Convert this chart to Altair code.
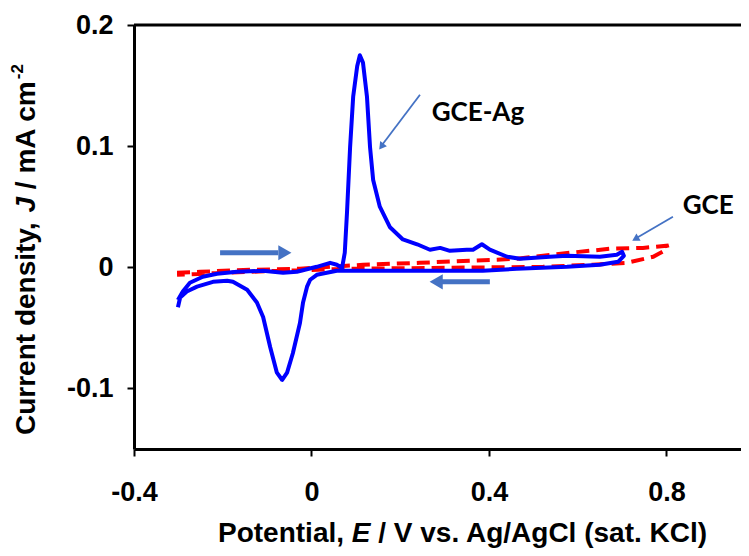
import altair as alt
import pandas as pd

# GCE-Ag cyclic voltammogram (blue), in scan order
ag_E = [-0.301, -0.290, -0.274, -0.245, -0.213, -0.168, -0.109, -0.087, -0.064, -0.033,
        0.012, 0.042, 0.057, 0.069, 0.075, 0.080, 0.087, 0.094, 0.103, 0.109,
        0.116, 0.125, 0.132, 0.139, 0.154, 0.177, 0.206, 0.238, 0.267, 0.290,
        0.312, 0.350, 0.364, 0.384, 0.402, 0.441, 0.470, 0.537, 0.576, 0.650,
        0.688, 0.700, 0.704, 0.691, 0.650, 0.576, 0.463, 0.386, 0.312, 0.154,
        0.057, 0.012, -0.003, -0.010, -0.019, -0.026, -0.042, -0.055, -0.066, -0.078,
        -0.093, -0.109, -0.123, -0.145, -0.177, -0.190, -0.222, -0.258, -0.281, -0.296,
        -0.301]
ag_J = [-0.027, -0.020, -0.0128, -0.0078, -0.0054, -0.0037, -0.0029, -0.0037, -0.0045, -0.0037,
        0.0004, 0.0037, 0.0021, -0.0004, 0.012, 0.045, 0.099, 0.141, 0.166, 0.175,
        0.169, 0.141, 0.099, 0.072, 0.050, 0.033, 0.023, 0.019, 0.0145, 0.016,
        0.0136, 0.0145, 0.0145, 0.019, 0.0145, 0.0087, 0.007, 0.0087, 0.0095, 0.0087,
        0.0103, 0.0128, 0.0095, 0.0045, 0.0021, 0.0004, -0.0012, -0.0029, -0.0029, -0.0029,
        -0.0029, -0.0062, -0.0103, -0.016, -0.029, -0.046, -0.071, -0.087, -0.093, -0.087,
        -0.066, -0.041, -0.029, -0.0186, -0.012, -0.0111, -0.012, -0.016, -0.020, -0.025,
        -0.033]

# bare GCE (red dashed), in scan order
gce_E = [-0.303, -0.251, -0.139, -0.026, 0.116, 0.244, 0.463, 0.583, 0.673, 0.747,
         0.801, 0.803, 0.770, 0.711, 0.634, 0.522, 0.312, 0.087, -0.139, -0.303]
gce_J = [-0.0045, -0.0037, -0.0021, -0.0012, 0.0021, 0.0037, 0.007, 0.012, 0.0153, 0.016,
         0.0178, 0.0153, 0.0087, 0.0037, 0.0021, 0.0004, -0.0004, -0.0012, -0.0037, -0.0062]

# scan-direction arrows: [start E, end E, J, head E]
fwd_arrow = [-0.206, -0.075, 0.012, -0.060]
rev_arrow = [0.402, 0.294, -0.012, 0.281]

# label annotations
labels = ["GCE-Ag", "GCE"]
label_E = [0.375, 0.894]
label_J = [0.127, 0.0508]
ptr_E1 = [0.2445, 0.8146]
ptr_J1 = [0.1424, 0.0417]
ptr_E2 = [0.159, 0.7335]
ptr_J2 = [0.101, 0.0244]
head_E = [0.1575, 0.730]
head_J = [0.0997, 0.0235]
head_angle = [217, 240]

x_ticks = [-0.4, 0, 0.4, 0.8]
y_ticks = [-0.1, 0, 0.1, 0.2]

W, H = 607, 424
FONT = "Liberation Sans"
ARROW = "#4472C4"
TITLE_SIZE = 28
LABEL_SIZE = 27

XS = alt.Scale(domain=[-0.4, 0.968], nice=False, zero=False)
YS = alt.Scale(domain=[-0.15, 0.2], nice=False, zero=False)

lab_expr = ("datum.value == 0 ? '0' : (datum.value < 0 ? '-' + format(abs(datum.value), '.1f')"
            " : format(datum.value, '.1f'))")

x_axis = alt.Axis(values=x_ticks, labelExpr=lab_expr, title=None, grid=False,
                  domainColor="black", domainWidth=3, tickColor="black", tickWidth=2,
                  tickSize=7, labelFont=FONT, labelFontSize=LABEL_SIZE, labelFontWeight="bold",
                  labelColor="black", labelPadding=23, labelFlush=False, labelOverlap=False)
y_axis = alt.Axis(values=y_ticks, labelExpr=lab_expr, title=None, grid=False,
                  domainColor="black", domainWidth=3, tickColor="black", tickWidth=2,
                  tickSize=7, labelFont=FONT, labelFontSize=LABEL_SIZE, labelFontWeight="bold",
                  labelColor="black", labelPadding=14, labelFlush=False, labelOverlap=False)


def X(field):
    return alt.X(field, scale=XS, axis=x_axis)


def Y(field):
    return alt.Y(field, scale=YS, axis=y_axis)


df_ag = pd.DataFrame({"E": ag_E, "J": ag_J, "i": list(range(len(ag_E)))})
df_gce = pd.DataFrame({"E": gce_E, "J": gce_J, "i": list(range(len(gce_E)))})

gce_line = alt.Chart(df_gce).mark_line(color="#FF0000", strokeWidth=4, strokeDash=[13, 7]).encode(
    x=X("E:Q"), y=Y("J:Q"), order="i:Q",
)
ag_line = alt.Chart(df_ag).mark_line(color="#0000FF", strokeWidth=4, strokeJoin="round").encode(
    x=X("E:Q"), y=Y("J:Q"), order="i:Q",
)

top_frame = alt.Chart(pd.DataFrame({"J": [0.2]})).mark_rule(color="black", strokeWidth=3).encode(
    y=Y("J:Q")
)

scan = pd.DataFrame({
    "E1": [fwd_arrow[0], rev_arrow[0]],
    "E2": [fwd_arrow[1], rev_arrow[1]],
    "J": [fwd_arrow[2], rev_arrow[2]],
    "H": [fwd_arrow[3], rev_arrow[3]],
    "shape": ["triangle-right", "triangle-left"],
})
scan_shaft = alt.Chart(scan).mark_rule(color=ARROW, strokeWidth=5).encode(
    x=X("E1:Q"), x2="E2:Q", y=Y("J:Q"),
)
scan_head = alt.Chart(scan).mark_point(color=ARROW, filled=True, opacity=1, size=230).encode(
    x=X("H:Q"), y=Y("J:Q"),
    shape=alt.Shape("shape:N", scale=None),
)

ann = pd.DataFrame({"t": labels, "E": label_E, "J": label_J,
                    "E1": ptr_E1, "J1": ptr_J1, "E2": ptr_E2, "J2": ptr_J2,
                    "HE": head_E, "HJ": head_J, "ang": head_angle})
ann_text = alt.Chart(ann).mark_text(font="Lato", fontSize=26, fontWeight="bold", color="black").encode(
    x=X("E:Q"), y=Y("J:Q"), text="t:N",
)
ann_line = alt.Chart(ann).mark_rule(color=ARROW, strokeWidth=1.8).encode(
    x=X("E1:Q"), x2="E2:Q", y=Y("J1:Q"), y2="J2:Q",
)
ann_head = alt.Chart(ann).mark_point(color=ARROW, filled=True, opacity=1, size=70, shape="triangle-up").encode(
    x=X("HE:Q"), y=Y("HJ:Q"),
    angle=alt.Angle("ang:Q", scale=None),
)


def txt(s, x, y, size=TITLE_SIZE, style="normal", align="left", angle=0, baseline="alphabetic"):
    kw = dict(font=FONT, fontSize=size, fontWeight="bold", fontStyle=style, color="black",
              align=align, baseline=baseline)
    if angle:
        kw["angle"] = angle
    return alt.Chart(pd.DataFrame({"t": [s]})).mark_text(**kw).encode(
        x=alt.value(x), y=alt.value(y), text="t:N")


SP = 0.278 * TITLE_SIZE  # width of a space

# x-axis title pieces (Potential, E / V vs. Ag/AgCl (sat. KCl))
xt_y = 517
x0 = 84
wP = 4.501 * TITLE_SIZE
wE = 0.667 * TITLE_SIZE
xE = x0 + wP + SP
xtitle = [
    txt("Potential,", x0, xt_y),
    txt("E", xE, xt_y, style="italic"),
    txt("/ V vs. Ag/AgCl (sat. KCl)", xE + wE + SP, xt_y),
]

# y-axis title pieces (Current density, J / mA cm-2), rotated
yt_x = -107
y0 = 410
wC = 7.668 * TITLE_SIZE
wJ = 0.556 * TITLE_SIZE
wM = 3.890 * TITLE_SIZE
yJ = y0 - wC - SP
yM = yJ - wJ - SP
ytitle = [
    txt("Current density,", yt_x, y0, angle=270, baseline="middle"),
    txt("J", yt_x, yJ, style="italic", angle=270, baseline="middle"),
    txt("/ mA cm", yt_x, yM, angle=270, baseline="middle"),
    txt("-2", yt_x - 9, yM - wM - 1, size=17, angle=270, baseline="middle"),
]

chart = alt.layer(
    gce_line, ag_line, top_frame, scan_shaft, scan_head, ann_line, ann_head, ann_text,
    *xtitle, *ytitle,
).properties(
    width=W, height=H,
    autosize=alt.AutoSizeParams(type="none"),
    padding={"left": 126, "top": 17, "right": 0, "bottom": 99},
    background="white",
).configure_view(stroke=None)

chart.save("out.html", embed_options={"renderer": "svg", "actions": False})
